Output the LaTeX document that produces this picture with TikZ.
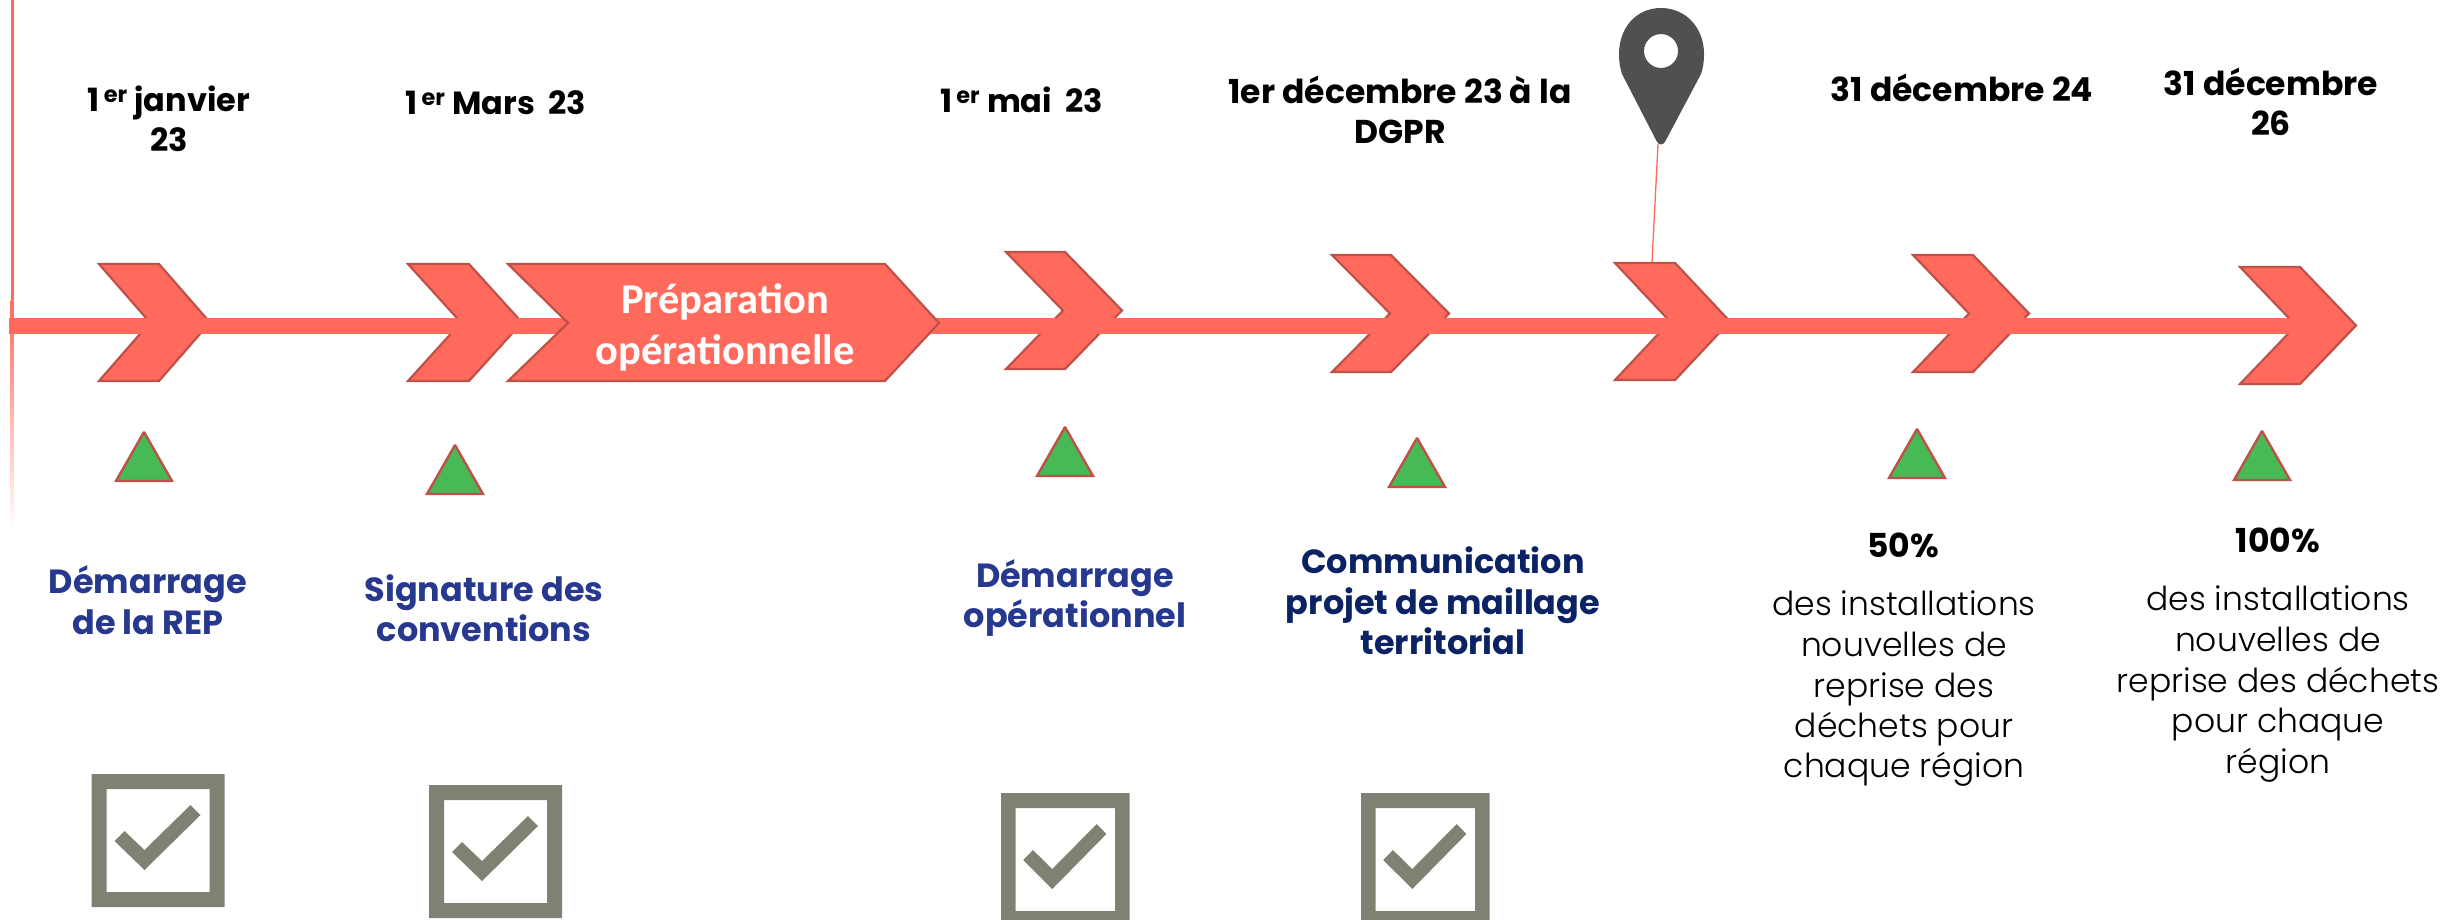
\documentclass[tikz,border=0pt]{standalone}
\usepackage{fontspec}
\setmainfont{Poppins}
\newfontfamily\calib{Carlito}
\newfontfamily\lightf{Poppins Light}
\definecolor{coral}{HTML}{FF6A5C}
\definecolor{coraledge}{HTML}{BE5148}
\definecolor{leaf}{HTML}{47B955}
\definecolor{navyb}{HTML}{27398F}
\definecolor{navyd}{HTML}{0B2265}
\definecolor{sage}{HTML}{7D8272}
\definecolor{pin}{HTML}{505050}
\tikzset{
 chev/.style={fill=coral,draw=coraledge,line width=2.2pt,line join=miter},
 tri/.style={fill=leaf,draw=coraledge,line width=2.4pt,miter limit=2},
 date/.style={align=center,font=\fontsize{33}{40}\selectfont\bfseries,text=black,inner sep=0pt},
 datesmall/.style={date,font=\fontsize{32}{40}\selectfont\bfseries},
 goalb/.style={align=center,font=\fontsize{33.5}{40.5}\selectfont\bfseries,text=navyb,inner sep=0pt},
 goald/.style={goalb,text=navyd},
 pct/.style={align=center,font=\fontsize{33}{40}\selectfont\bfseries,text=black,inner sep=0pt},
 body/.style={align=center,font=\lightf\fontsize{33}{40.5}\selectfont,text=black,inner sep=0pt},
}
\newcommand{\er}{\textsuperscript{\,er}}
\newcommand{\mychev}[5]{% left, topright, tip, top, bottom
 \path[chev] (#1,#4) -- (#2,#4) -- (#3,{(#4+#5)/2}) -- (#2,#5) -- (#1,#5) -- ({#1+#3-#2},{(#4+#5)/2}) -- cycle;}
\newcommand{\mytri}[2]{% centre x, apex y
 \path[tri] (#1,#2) -- ({#1+28},{#2+49}) -- ({#1-28},{#2+49}) -- cycle;}
\newcommand{\mycheck}[3]{% left, top of outer box, width scale
 \begin{scope}[shift={(#1,#2)},xscale=#3]
 \path[fill=sage,even odd rule] (0,0) rectangle (133,133) (15,15) rectangle (118,118);
 \path[fill=sage] (23,67) -- (33,57) -- (53,76) -- (99,31) -- (109,41) -- (53,96) -- cycle;
 \end{scope}}
\begin{document}
\begin{tikzpicture}[x=1pt,y=-1pt]
\useasboundingbox (0,0) rectangle (2448,919);
\clip (0,0) rectangle (2448,919);
% left fading rule
\path[fill=coral] (10.5,0) rectangle (13.5,300);
\shade[top color=coral,bottom color=white] (10.5,300) rectangle (13.5,530);
% chevrons
\mychev{99}{159}{210}{264}{381}
\mychev{408}{469}{522}{264}{381}
\mychev{1006}{1065}{1122}{252}{369}
\mychev{1332}{1391}{1449}{255}{372}
\mychev{1615}{1675}{1730}{263}{380}
\mychev{1913}{1973}{2029}{255}{372}
\mychev{2240}{2300}{2356}{267}{384}
% axis, over the chevrons
\path[fill=coral] (9,318) rectangle (2320,334);
% preparation block, over the axis
\path[chev] (508,264) -- (885,264) -- (939,323) -- (885,381) -- (508,381) -- (568,323) -- cycle;
\node[font=\calib\fontsize{42.5}{51}\selectfont\bfseries,text=white,align=center,inner sep=0pt] (prep) at (725,327) {Préparation\\opérationnelle};
% triangles
\mytri{144}{432}
\mytri{455}{445}
\mytri{1065}{427}
\mytri{1417}{438}
\mytri{1917}{429}
\mytri{2262}{431}
% pin
\coordinate (pintip) at (1658,144);
\coordinate (pinfoot) at (1652,262);
\draw[coral,line width=1.3pt] (pintip) -- (pinfoot);
\path[fill=pin,even odd rule] (1661,8) .. controls (1636,8) and (1619,28) .. (1619,54) .. controls (1619,62) and (1620,68) .. (1622,74) -- (1656,140) .. controls (1658,146) and (1664,146) .. (1666,140) -- (1701,74) .. controls (1703,68) and (1704,62) .. (1704,54) .. controls (1704,28) and (1686,8) .. (1661,8) -- cycle (1661,51) circle (17);
% dates
\node[datesmall] (d1) at (169,119) {1\er{} janvier\\23};
\node[datesmall] (d2) at (496,103) {1\er{} Mars\ \ 23};
\node[datesmall] (d3) at (1022,100) {1\er{} mai\ \ 23};
\node[date] (d4) at (1400,110) {1er décembre 23 à la\\DGPR};
\node[date] (d5) at (1962,88) {31 décembre 24};
\node[date] (d6) at (2271,102) {31 décembre\\26};
% goals
\node[goalb] (g1) at (148,600) {Démarrage\\de la REP};
\node[goalb] (g2) at (484,608) {Signature des\\conventions};
\node[goalb] (g3) at (1075,598) {Démarrage\\opérationnel};
\node[goald] (g4) at (1443,601) {Communication\\projet de maillage\\territorial};
\node[pct] (p5) at (1903,545) {50\%};
\node[pct] (p6) at (2278,540) {100\%};
\node[body] (b5) at (1904,689) {des installations\\nouvelles de\\reprise des\\déchets pour\\chaque région};
\node[body] (b6) at (2278,684) {des installations\\nouvelles de\\reprise des déchets\\pour chaque\\région};
% checks
\mycheck{91.5}{774}{1}
\mycheck{429}{785}{1}
\mycheck{1001}{793}{.967}
\mycheck{1361}{793}{.967}
\end{tikzpicture}
\end{document}
